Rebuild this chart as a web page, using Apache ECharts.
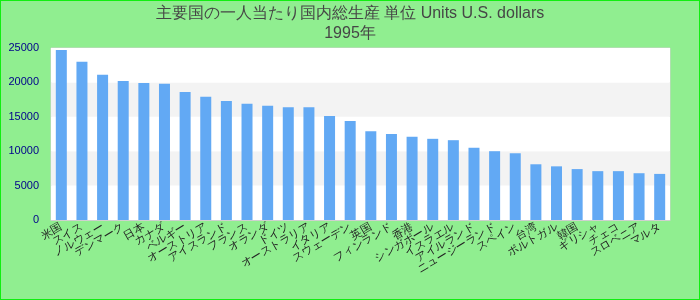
<!DOCTYPE html>
<html>
<head>
<meta charset="utf-8">
<script src="https://cdn.jsdelivr.net/npm/echarts@6/dist/echarts.min.js"></script>
<style>
html,body{margin:0;padding:0;background:#90EE90;}
#c{width:698px;height:298px;border:1px solid #11ee11;}
</style>
</head>
<body>
<div id="c"></div>
<script>
var titleText = "主要国の一人当たり国内総生産 単位 Units U.S. dollars\n1995年";
var categories = ["米国","スイス","ノルウェー","デンマーク","日本","カナダ","ベルギー","オーストリア","アイスランド","フランス","オランダ","ドイツ","オーストラリア","イタリア","スウェーデン","英国","フィンランド","香港","シンガポール","イスラエル","アイルランド","ニュージーランド","スペイン","台湾","ポルトガル","韓国","ギリシャ","チェコ","スロベニア","マルタ"];
var values = [24700,23000,21100,20200,19900,19800,18600,17900,17300,16900,16600,16400,16400,15100,14400,12900,12500,12100,11800,11600,10500,10000,9700,8100,7800,7400,7100,7100,6800,6700];
var yTicks = {min:0, max:25000, interval:5000};

var chart = echarts.init(document.getElementById('c'));
chart.setOption({
  backgroundColor:'#90EE90',
  animation:false,
  title:{
    text:titleText,
    left:'center',
    top:-2,
    textStyle:{fontSize:16,fontWeight:'normal',color:'#464646',fontFamily:'"Liberation Sans", Arial, sans-serif',lineHeight:20}
  },
  grid:{left:50,right:29,top:47,bottom:79,show:true,backgroundColor:'#ffffff',borderColor:'#d0d0d0',borderWidth:1},
  xAxis:{
    type:'category',
    data:categories,
    axisLine:{show:true,lineStyle:{color:'#d0d0d0'}},
    axisTick:{show:false},
    axisLabel:{interval:0,rotate:30,fontSize:11,color:'#222',margin:6,fontFamily:'"Liberation Sans", Arial, sans-serif'}
  },
  yAxis:{
    type:'value',
    min:yTicks.min,max:yTicks.max,interval:yTicks.interval,
    axisLine:{show:false},
    axisTick:{show:false},
    splitLine:{show:false},
    splitArea:{show:true,areaStyle:{color:['#ffffff','#f3f3f3']}},
    axisLabel:{fontSize:11,color:'#00008b',margin:12,fontFamily:'"Liberation Sans", Arial, sans-serif',formatter:function(v){return String(v);}}
  },
  series:[{type:'bar',data:values,barWidth:11,itemStyle:{color:'#62a9f4'}}]
});
</script>
</body>
</html>
